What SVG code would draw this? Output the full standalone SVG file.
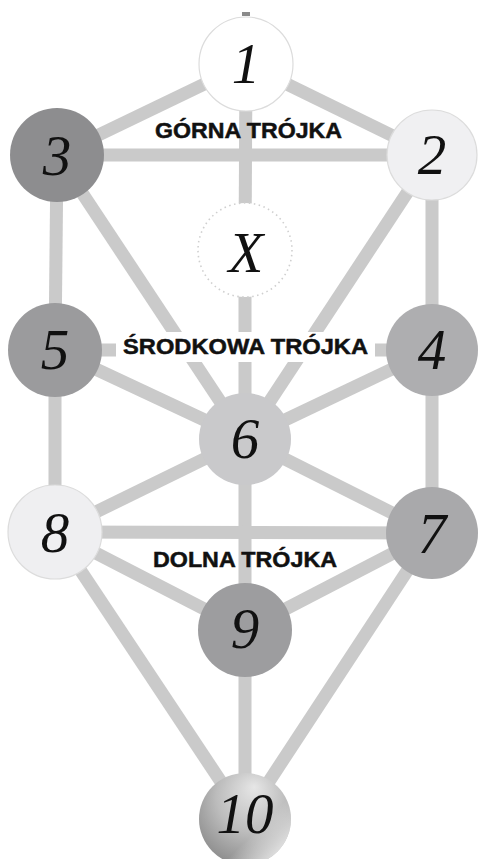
<svg xmlns="http://www.w3.org/2000/svg" width="478" height="859" viewBox="0 0 478 859">
<defs>
<style>
.ln{stroke:#cacaca;stroke-width:13;stroke-linecap:butt;fill:none}
.num{font-family:"Liberation Serif","Times New Roman",serif;font-style:italic;font-size:57px;fill:#111;text-anchor:middle}
.lbl{font-family:"Liberation Sans",Arial,sans-serif;font-weight:bold;font-size:22.5px;fill:#111;stroke:#111;stroke-width:0.5}
.edge{stroke:#dcdcdc;stroke-width:1.2}
</style>
<radialGradient id="g10" cx="0.55" cy="0.35" r="0.7" fx="0.6" fy="0.15">
<stop offset="0" stop-color="#e6e6e6"/>
<stop offset="0.55" stop-color="#bcbcbc"/>
<stop offset="1" stop-color="#8a8a8a"/>
</radialGradient>
<linearGradient id="g10b" x1="0.2" y1="0.2" x2="0.9" y2="0.9">
<stop offset="0.6" stop-color="#ffffff" stop-opacity="0"/>
<stop offset="1" stop-color="#ffffff" stop-opacity="0.8"/>
</linearGradient>
</defs>
<rect width="478" height="859" fill="#fff"/>
<g id="connectors">
<line class="ln" x1="246" y1="64" x2="57" y2="155"/>
<line class="ln" x1="246" y1="64" x2="432" y2="155"/>
<line class="ln" x1="246" y1="64" x2="245" y2="250"/>
<line class="ln" x1="57" y1="155" x2="432" y2="155"/>
<line class="ln" x1="57" y1="155" x2="55" y2="350"/>
<line class="ln" x1="432" y1="155" x2="432" y2="350"/>
<line class="ln" x1="57" y1="155" x2="245" y2="439"/>
<line class="ln" x1="432" y1="155" x2="245" y2="439"/>
<line class="ln" x1="245" y1="250" x2="245" y2="439"/>
<line class="ln" x1="55" y1="350" x2="432" y2="350"/>
<line class="ln" x1="55" y1="350" x2="245" y2="439"/>
<line class="ln" x1="432" y1="350" x2="245" y2="439"/>
<line class="ln" x1="55" y1="350" x2="55" y2="532"/>
<line class="ln" x1="432" y1="350" x2="432" y2="533"/>
<line class="ln" x1="245" y1="439" x2="55" y2="532"/>
<line class="ln" x1="245" y1="439" x2="432" y2="533"/>
<line class="ln" x1="245" y1="439" x2="245" y2="630"/>
<line class="ln" x1="55" y1="532" x2="432" y2="533"/>
<line class="ln" x1="55" y1="532" x2="245" y2="630"/>
<line class="ln" x1="432" y1="533" x2="245" y2="630"/>
<line class="ln" x1="55" y1="532" x2="245" y2="818"/>
<line class="ln" x1="432" y1="533" x2="245" y2="818"/>
<line class="ln" x1="245" y1="630" x2="245" y2="818"/>
<rect x="242" y="12" width="8" height="4" fill="#8a8a8a"/>
</g>
<rect x="116" y="332" width="259" height="30" fill="#fff"/>
<g id="n1"><circle cx="246" cy="64" r="47" fill="#fff" class="edge"/><text class="num" x="246" y="83">1</text></g>
<g id="n3"><circle cx="57" cy="155" r="47" fill="#8d8d8f"/><text class="num" x="57" y="175">3</text></g>
<g id="n2"><circle cx="432" cy="155" r="45" fill="#f0f0f2" class="edge"/><text class="num" x="432" y="174">2</text></g>
<g id="nX"><circle cx="245" cy="250" r="47" fill="#fff" stroke="#cfcfcf" stroke-width="1.6" stroke-dasharray="1.5 3.5"/><text class="num" x="246" y="272">X</text></g>
<g id="n5"><circle cx="55" cy="350" r="47" fill="#9b9b9d"/><text class="num" x="55" y="369">5</text></g>
<g id="n4"><circle cx="432" cy="350" r="46" fill="#aeaeb0"/><text class="num" x="432" y="369">4</text></g>
<g id="n6"><circle cx="245" cy="439" r="46" fill="#c9c9cb"/><text class="num" x="245" y="458">6</text></g>
<g id="n8"><circle cx="55" cy="532" r="47" fill="#efeff1" class="edge"/><text class="num" x="55" y="552">8</text></g>
<g id="n7"><circle cx="432" cy="533" r="46" fill="#a9a9ab"/><text class="num" x="432" y="553">7</text></g>
<g id="n9"><circle cx="245" cy="630" r="47" fill="#9d9d9f"/><text class="num" x="245" y="648">9</text></g>
<g id="n10"><circle cx="245" cy="819" r="46" fill="url(#g10)"/><circle cx="245" cy="819" r="46" fill="url(#g10b)"/><text class="num" x="245" y="833">10</text></g>
<g id="labels">
<text class="lbl" x="155" y="138" textLength="187" lengthAdjust="spacingAndGlyphs">GÓRNA TRÓJKA</text>
<text class="lbl" x="123" y="354" textLength="245" lengthAdjust="spacingAndGlyphs">ŚRODKOWA TRÓJKA</text>
<text class="lbl" x="153" y="567" textLength="184" lengthAdjust="spacingAndGlyphs">DOLNA TRÓJKA</text>
</g>
</svg>
